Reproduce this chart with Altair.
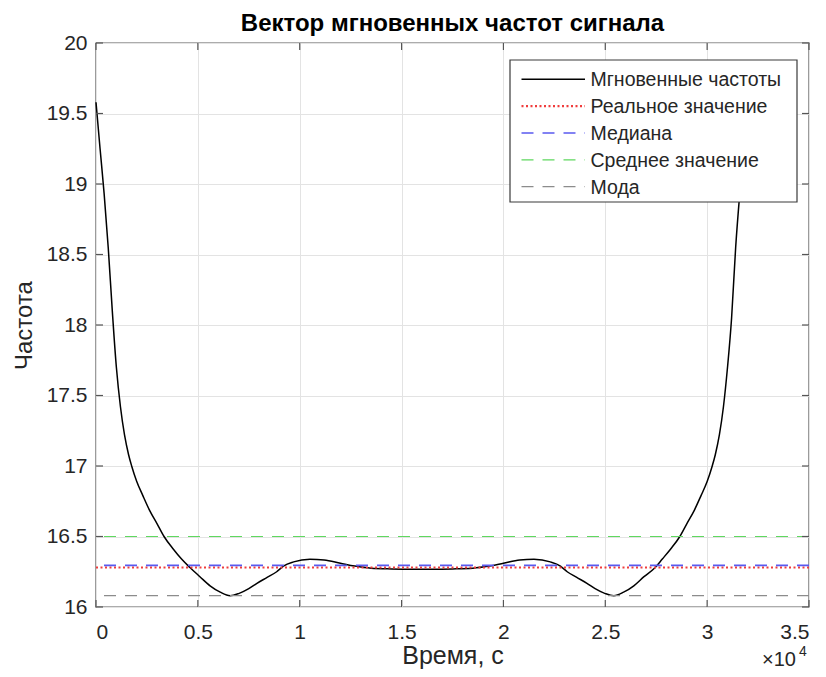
import altair as alt
import pandas as pd

# ---- data ----
time_1e4 = [0.00, 0.02, 0.04, 0.06, 0.08, 0.10, 0.12, 0.14, 0.16, 0.175, 0.20, 0.23, 0.265, 0.30,
            0.334, 0.38, 0.42, 0.461, 0.51, 0.56, 0.61, 0.658, 0.70, 0.75, 0.79, 0.84, 0.887,
            0.92, 0.97, 1.05, 1.12, 1.20, 1.27, 1.35, 1.45, 1.55, 1.65, 1.75, 1.85, 1.93, 2.00,
            2.08, 2.15, 2.23, 2.28, 2.313, 2.36, 2.41, 2.45, 2.50, 2.542, 2.59, 2.64, 2.69,
            2.745, 2.78, 2.82, 2.866, 2.90, 2.935, 2.97, 3.00, 3.025, 3.04, 3.06, 3.08, 3.10,
            3.12, 3.14, 3.16, 3.18, 3.20]
freq = [19.58, 19.25, 18.93, 18.55, 18.10, 17.70, 17.42, 17.22, 17.08, 17.00, 16.89, 16.79, 16.68, 16.59,
        16.50, 16.41, 16.34, 16.28, 16.215, 16.15, 16.105, 16.08, 16.095, 16.13, 16.168, 16.21, 16.25,
        16.29, 16.32, 16.338, 16.333, 16.31, 16.29, 16.275, 16.27, 16.268, 16.268, 16.27, 16.275, 16.29, 16.31,
        16.333, 16.338, 16.32, 16.29, 16.25, 16.21, 16.168, 16.13, 16.095, 16.08, 16.105, 16.15, 16.215,
        16.28, 16.34, 16.41, 16.50, 16.59, 16.68, 16.79, 16.89, 17.00, 17.08, 17.22, 17.42, 17.70,
        18.05, 18.55, 18.93, 19.25, 19.58]

real_value = 16.28
median_value = 16.295
mean_value = 16.5
mode_value = 16.08

x_ticks = [0, 0.5, 1, 1.5, 2, 2.5, 3, 3.5]
y_ticks = [16, 16.5, 17, 17.5, 18, 18.5, 19, 19.5, 20]

legend_labels = ["Мгновенные частоты", "Реальное значение", "Медиана", "Среднее значение", "Мода"]
title_text = "Вектор мгновенных частот сигнала"
x_title = "Время, с"
y_title = "Частота"

# ---- styles ----
FONT = "Liberation Sans"
W, H = 713, 564
TXT = "#262626"
styles = [
    dict(color="#000000", dash=[1, 0], width=1.5),
    dict(color="#f03c3c", dash=[2, 2.5], width=2.2),
    dict(color="#5a5af0", dash=[12, 9], width=1.6),
    dict(color="#5fd85f", dash=[12, 9], width=1.2),
    dict(color="#8c8c8c", dash=[12, 9], width=1.2),
]

xs = alt.Scale(domain=[0, 3.5], nice=False, zero=False)
ys = alt.Scale(domain=[16, 20], nice=False, zero=False)

curve_df = pd.DataFrame({"t": time_1e4, "f": freq})
one = pd.DataFrame({"i": [0]})

curve = alt.Chart(curve_df).mark_line(
    color=styles[0]["color"], strokeWidth=styles[0]["width"], interpolate="monotone"
).encode(
    x=alt.X("t:Q", scale=xs, axis=alt.Axis(
        values=x_ticks, format="~g", title=x_title, labelPadding=14, titleFontSize=25,
        titleX=W / 2, titleY=56, titleBaseline="alphabetic", titleAlign="center")),
    y=alt.Y("f:Q", scale=ys, axis=alt.Axis(
        values=y_ticks, format="~g", title=y_title, labelPadding=9, titleFontSize=24,
        titleX=-72, titleY=H / 2, titleAngle=270, titleBaseline="middle", titleAlign="center")),
)

hlines = []
for val, st in zip([real_value, median_value, mean_value, mode_value], styles[1:]):
    hlines.append(alt.Chart(one).mark_rule(
        color=st["color"], strokeDash=st["dash"], strokeWidth=st["width"]
    ).encode(y=alt.datum(val)))

# inward ticks on all four sides
xt_df = pd.DataFrame({"t": x_ticks})
yt_df = pd.DataFrame({"f": y_ticks})
TK = 7
tick_col = "#555555"
ticks = [
    alt.Chart(xt_df).mark_rule(color=tick_col, strokeWidth=1.2).encode(
        x="t:Q", y=alt.value(H), y2=alt.value(H - TK)),
    alt.Chart(xt_df).mark_rule(color=tick_col, strokeWidth=1.2).encode(
        x="t:Q", y=alt.value(0), y2=alt.value(TK)),
    alt.Chart(yt_df).mark_rule(color=tick_col, strokeWidth=1.2).encode(
        y="f:Q", x=alt.value(0), x2=alt.value(TK)),
    alt.Chart(yt_df).mark_rule(color=tick_col, strokeWidth=1.2).encode(
        y="f:Q", x=alt.value(W), x2=alt.value(W - TK)),
]

# legend (drawn as marks, MATLAB style)
LX0, LX1, LY0, LY1 = 414, 701, 17, 159
legend_layers = [
    alt.Chart(one).mark_rect(fill="white", stroke="#3a3a3a", strokeWidth=1.2).encode(
        x=alt.value(LX0), x2=alt.value(LX1), y=alt.value(LY0), y2=alt.value(LY1))
]
for i, (lab, st) in enumerate(zip(legend_labels, styles)):
    ry = 36.3 + i * 26.85
    legend_layers.append(alt.Chart(one).mark_rule(
        color=st["color"], strokeDash=st["dash"], strokeWidth=st["width"]).encode(
        x=alt.value(425.5), x2=alt.value(489), y=alt.value(ry)))
    legend_layers.append(alt.Chart(one).mark_text(
        align="left", baseline="middle", font=FONT, fontSize=19.5, color=TXT).encode(
        x=alt.value(494.5), y=alt.value(ry + 1), text=alt.value(lab)))

texts = [
    alt.Chart(one).mark_text(align="center", baseline="alphabetic", font=FONT, fontSize=24,
                             fontWeight="bold", color="#000000").encode(
        x=alt.value(W / 2), y=alt.value(-12), text=alt.value(title_text)),
    alt.Chart(one).mark_text(align="left", baseline="alphabetic", font=FONT, fontSize=20,
                             color=TXT).encode(
        x=alt.value(666), y=alt.value(623), text=alt.value("×10")),
    alt.Chart(one).mark_text(align="left", baseline="alphabetic", font=FONT, fontSize=14,
                             color=TXT).encode(
        x=alt.value(703), y=alt.value(613), text=alt.value("4")),
]

chart = alt.layer(curve, *hlines, *ticks, *legend_layers, *texts).properties(
    width=W, height=H,
    autosize=alt.AutoSizeParams(type="none"),
    padding={"left": 88, "top": 35, "right": 9, "bottom": 62},
    background="white",
).configure_view(
    stroke="#5a5a5a", strokeWidth=1.4
).configure_axis(
    labelFont=FONT, titleFont=FONT, labelFontSize=21, titleFontSize=24,
    labelColor=TXT, titleColor=TXT, titleFontWeight="normal",
    grid=True, gridColor="#e3e3e3", gridWidth=1,
    domain=False, ticks=False, tickSize=0,
)

chart.save("out.html", embed_options={"renderer": "svg", "actions": False})
